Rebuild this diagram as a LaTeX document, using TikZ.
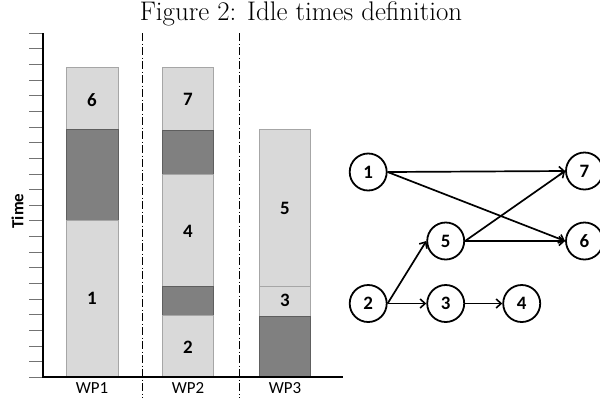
\documentclass[tikz,border=0pt]{standalone}
\usepackage{fontspec}
\newfontfamily\carl{Carlito}
\usetikzlibrary{arrows.meta}
\definecolor{lightfill}{HTML}{D9D9D9}
\definecolor{lightedge}{HTML}{A6A6A6}
\definecolor{darkfill}{HTML}{808080}
\definecolor{darkedge}{HTML}{5E5E5E}
\begin{document}
\begin{tikzpicture}[x=1bp,y=-1bp,
  lightbar/.style={fill=lightfill, draw=lightedge, line width=1bp},
  darkbar/.style={fill=darkfill, draw=darkedge, line width=1bp},
  barlbl/.style={font=\carl\bfseries\fontsize{19}{21}\selectfont, inner sep=0},
  wplbl/.style={font=\carl\fontsize{17}{20}\selectfont, inner sep=0},
  sepline/.style={line width=0.8bp, dash pattern=on 8bp off 2.5bp on 1bp off 2.5bp},
  tickline/.style={line width=1bp, draw=black!55},
  task/.style={circle, draw, line width=1.8bp, minimum size=37bp, inner sep=0,
    font=\carl\bfseries\fontsize{19}{21}\selectfont},
  edge/.style={line width=1.7bp, -{Straight Barb[length=5bp, width=9bp, line width=1.6bp]}}]
\useasboundingbox (0,0) rectangle (600,398);
\clip (0,0) rectangle (600,398);
% title
\node[font=\fontsize{27}{31}\selectfont, inner sep=0] (title) at (301,14) {Figure 2: Idle times definition};
% ticks
\foreach \i in {0,...,22} \draw[tickline] (29,{33.3+15.64*\i}) -- (43,{33.3+15.64*\i});
% separators
\draw[sepline] (142,33) -- (142,398);
\draw[sepline] (239.3,33) -- (239.3,398);
% WP1
\draw[lightbar] (66.7,67.3) rectangle (118.3,129);
\draw[darkbar] (66.7,129) rectangle (118.3,220.7);
\draw[lightbar] (66.7,220.7) rectangle (118.3,377);
% WP2
\draw[lightbar] (162.3,67.3) rectangle (213.7,130);
\draw[darkbar] (162.3,130) rectangle (213.7,174.3);
\draw[lightbar] (162.3,174.3) rectangle (213.7,286);
\draw[darkbar] (162.3,286) rectangle (213.7,315.3);
\draw[lightbar] (162.3,315.3) rectangle (213.7,377);
% WP3
\draw[lightbar] (259.3,129.3) rectangle (310.3,286);
\draw[lightbar] (259.3,286) rectangle (310.3,316);
\draw[darkbar] (259.3,316) rectangle (310.3,377);
% axes
\draw[line width=1.6bp] (43,33) -- (43,377) -- (343.3,377);
% bar labels
\node[barlbl] (b6) at (92,100) {6};
\node[barlbl] (b1) at (92,298) {1};
\node[barlbl] (b7) at (188,99) {7};
\node[barlbl] (b4) at (188,231) {4};
\node[barlbl] (b2) at (188,347) {2};
\node[barlbl] (b5) at (284.8,208) {5};
\node[barlbl] (b3) at (284.8,300) {3};
% axis labels
\node[wplbl] (wp1) at (92,388) {WP1};
\node[wplbl] (wp2) at (188,388) {WP2};
\node[wplbl] (wp3) at (285,388) {WP3};
\node[barlbl, font=\carl\bfseries\fontsize{17}{20}\selectfont, rotate=90] (time) at (17.5,211) {Time};
% graph
\node[task] (n1) at (368.2,172) {1};
\node[task] (n7) at (584.5,171) {7};
\node[task] (n5) at (445.7,241) {5};
\node[task] (n6) at (584.5,241) {6};
\node[task] (n2) at (368.2,303.5) {2};
\node[task] (n3) at (445.7,303.5) {3};
\node[task] (n4) at (521.7,303.5) {4};
\draw[edge] (n1.east) -- (n7.west);
\draw[edge] (n1.east) -- (n6.west);
\draw[edge] (n5.east) -- (n7.west);
\draw[edge] (n5.east) -- (n6.west);
\draw[edge] (n2.east) -- (n5.west);
\draw[edge] (n2.east) -- (n3.west);
\draw[edge] (n3.east) -- (n4.west);
\end{tikzpicture}
\end{document}
